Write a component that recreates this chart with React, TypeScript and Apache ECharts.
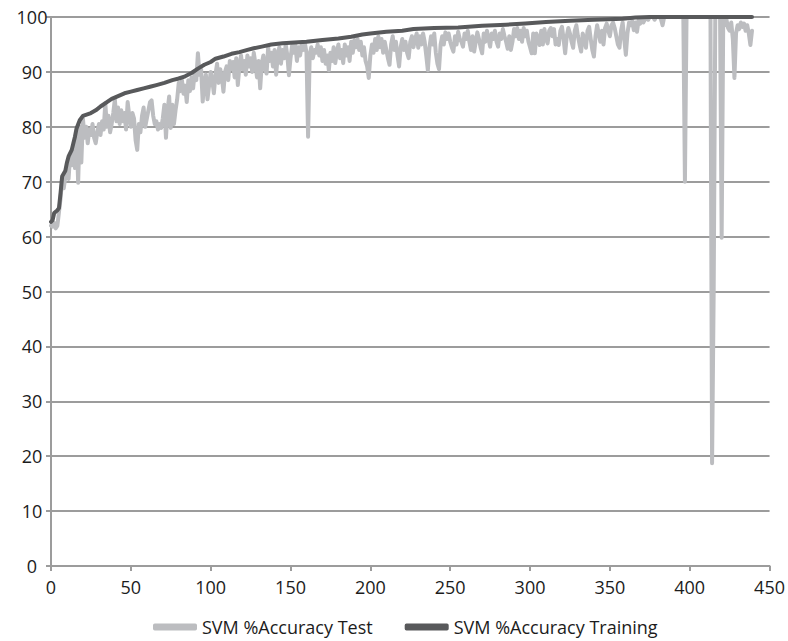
import React, { useEffect, useRef } from "react";
import * as echarts from "echarts";

// Test accuracy, one value per x position (0..439)
const testAccuracy: number[] = [
  62, 61.8, 62.5, 61.5, 62, 64.5, 67, 70.5, 68.8, 71,
  72, 70.5, 75, 73, 76, 72.5, 79, 69.8, 80, 73.5,
  81.5, 78, 80, 77, 79.5, 78.5, 80.5, 78, 77, 79,
  80.5, 78.5, 81, 79.5, 84.3, 80, 82, 79, 80.5, 82.5,
  85, 81, 83.5, 80.5, 83, 81, 82.5, 79.5, 84.5, 82,
  80, 82.5, 81.5, 77.5, 75.8, 80.5, 79, 82, 83.5, 80,
  81.5, 83, 84.5, 84.8, 82, 80.5, 81, 79.5, 80.5, 79.8,
  81.5, 84, 78, 83, 85.5, 79.8, 84, 80.5, 83, 85,
  88, 86.5, 88.5, 86, 87.5, 84.5, 88.5, 86.5, 89, 87,
  90, 88.5, 93.4, 89.5, 90.5, 84.6, 88, 89.5, 85, 87.5,
  90, 88.5, 86.1, 89.5, 91.5, 88, 90.5, 89, 86.4, 90,
  91, 88.5, 92, 90.5, 91.8, 89, 92.5, 87.6, 91, 93,
  90.5, 92, 89.5, 93, 91, 92.5, 90, 93.5, 91.5, 89,
  92, 87, 91.5, 93, 90.5, 89.7, 94.5, 92, 93.5, 91,
  94, 89.5, 93, 94.5, 91.5, 94, 92.5, 95, 93, 89.4,
  92.5, 94.8, 93.5, 95, 92, 94.5, 93, 95, 94, 95.2,
  93.5, 78.2, 93, 94.5, 92.5, 94, 93.5, 95, 93, 94.5,
  92, 94, 91.5, 93, 90.3, 93.5, 92, 94.5, 91.6, 93.5,
  95, 92.5, 94, 91.6, 95, 93, 94.5, 92, 95.5, 93.5,
  95.8, 94.5, 96, 94, 95.5, 93, 94.5, 92, 91, 88.9,
  93, 95, 93.5, 96, 94, 96.5, 94.5, 96, 93.5, 95.5,
  94, 92.5, 91.3, 95, 96.5, 94, 95.5, 93, 91, 94.5,
  96, 94, 95.5, 93.5, 92.5, 95.5, 96.5, 94.5, 96, 97,
  94.4, 96.5, 95, 97, 95.5, 93, 90.3, 94.5, 96.5, 95,
  97, 93.5, 91.5, 90.5, 95, 96.5, 95, 97.2, 96, 97,
  95.5, 94.5, 93.7, 96.5, 95, 97.3, 96, 95.5, 94.6, 97,
  96, 97.5, 95.5, 94, 96.5, 93.7, 95.5, 97.2, 96, 94.5,
  93.4, 97, 95.5, 97.5, 96, 94.6, 97, 96, 97.5, 95.5,
  94.6, 97, 96, 97.8, 96.5, 95.5, 94.2, 96.5, 94, 95.5,
  97.8, 96.5, 98, 96, 97.5, 95.5, 98, 96.5, 97.5, 95.5,
  94.5, 93.4, 97, 93.4, 97, 96, 94.9, 97.5, 95, 97.8,
  96, 95.2, 97.5, 98, 96.5, 97.8, 95, 96, 94.9, 97.5,
  98.2, 96, 93.4, 96.5, 98, 97, 95.5, 94.4, 97.5, 98.5,
  96.5, 95, 93.7, 97, 96, 94.4, 97.5, 98.2, 96, 94,
  92.8, 96.5, 98.5, 97, 95.5, 97.5, 95, 98, 98.8, 97.5,
  96.5, 98.5, 99, 98, 96.5, 95, 94.4, 97.5, 99, 96,
  93.1, 97, 99, 98.5, 99.3, 97.6, 99, 97.3, 99.5, 98.8,
  99.5, 99, 99.6, 99.8, 99.5, 100, 100, 100, 99.5, 100,
  100, 100, 99.6, 98.5, 100, 100, 100, 100, 100, 100,
  100, 100, 100, 100, 100, 100, 100, 70, 100, 100,
  100, 100, 100, 100, 100, 100, 100, 100, 100, 100,
  100, 100, 100, 100, 18.7, 50, 100, 100, 100, 100,
  59.8, 100, 98.5, 99.5, 98, 97.5, 99, 96, 88.9, 97,
  98.5, 97.8, 99, 98.2, 98.8, 97.5, 98.5, 97, 94.9, 97.5,
];

// Training accuracy read at these x positions
const trainingX: number[] = [
  0, 1, 2, 4, 5, 6, 7, 9, 10, 11, 13, 14, 15, 16, 18, 20, 25, 28, 31, 35,
  38, 42, 46, 50, 54, 58, 62, 66, 71, 76, 80, 84, 88, 92, 96, 100, 103, 108, 113, 118,
  123, 127, 132, 138, 145, 150, 160, 170, 180, 188, 195, 200, 210, 220, 227, 240, 255, 270, 285, 297,
  310, 325, 340, 358, 366, 375, 439,
];
const trainingY: number[] = [
  62.7, 63, 64.3, 64.8, 65.2, 68, 71, 72, 73.5, 74.6, 75.8, 77, 78.2, 79.7, 81.2, 82, 82.5, 83, 83.7, 84.5,
  85.1, 85.6, 86.1, 86.4, 86.7, 87, 87.3, 87.6, 88, 88.5, 88.8, 89.2, 89.8, 90.6, 91.3, 91.8, 92.4, 92.8, 93.3, 93.6,
  94, 94.3, 94.6, 95, 95.2, 95.3, 95.5, 95.8, 96.1, 96.4, 96.8, 97, 97.3, 97.5, 97.8, 98, 98.1, 98.4, 98.6, 98.8,
  99.1, 99.3, 99.5, 99.7, 99.9, 100, 100,
];

const seriesNames = ["SVM %Accuracy Test", "SVM %Accuracy Training"];

export default function App() {
  const ref = useRef<HTMLDivElement>(null);
  useEffect(() => {
    if (!ref.current) return;
    const chart = echarts.init(ref.current, null, { renderer: "svg" });
    const font = "'Open Sans', sans-serif";
    const axisGray = "#9c9c9c";
    const textColor = "#1c1c1c";
    chart.setOption({
      animation: false,
      backgroundColor: "#ffffff",
      grid: { left: 51, right: 16, top: 17, bottom: 75, containLabel: false },
      xAxis: {
        type: "value",
        min: 0,
        max: 450,
        interval: 50,
        axisLine: { show: true, onZero: false, lineStyle: { color: axisGray, width: 2 } },
        axisTick: { show: true, length: 5, lineStyle: { color: axisGray, width: 2 } },
        axisLabel: { margin: 12, color: textColor, fontSize: 18, fontFamily: font },
        splitLine: { show: false },
      },
      yAxis: {
        type: "value",
        min: 0,
        max: 100,
        interval: 10,
        axisLine: { show: true, lineStyle: { color: axisGray, width: 2 } },
        axisTick: { show: true, length: 5, lineStyle: { color: axisGray, width: 2 } },
        axisLabel: { margin: 19, align: "center", color: textColor, fontSize: 18, fontFamily: font },
        splitLine: { show: true, lineStyle: { color: axisGray, width: 2 } },
      },
      legend: {
        left: 153,
        top: 616,
        padding: 0,
        icon: "roundRect",
        itemWidth: 44,
        itemHeight: 7,
        itemGap: 32,
        textStyle: { color: textColor, fontSize: 18, fontFamily: font, lineHeight: 22 },
        data: seriesNames,
      },
      series: [
        {
          name: seriesNames[0],
          type: "line",
          data: testAccuracy.map((v, i) => [i, v]),
          showSymbol: false,
          symbol: "none",
          lineStyle: { color: "#bcbdc0", width: 4, join: "round", cap: "round" },
          itemStyle: { color: "#bcbdc0" },
        },
        {
          name: seriesNames[1],
          type: "line",
          data: trainingX.map((x, i) => [x, trainingY[i]]),
          showSymbol: false,
          symbol: "none",
          lineStyle: { color: "#58595b", width: 4, join: "round", cap: "round" },
          itemStyle: { color: "#58595b" },
        },
      ],
    });
    return () => chart.dispose();
  }, []);
  return (
    <div
      ref={ref}
      style={{ position: "fixed", left: 0, top: 0, width: 788, height: 641, background: "#fff" }}
    />
  );
}
